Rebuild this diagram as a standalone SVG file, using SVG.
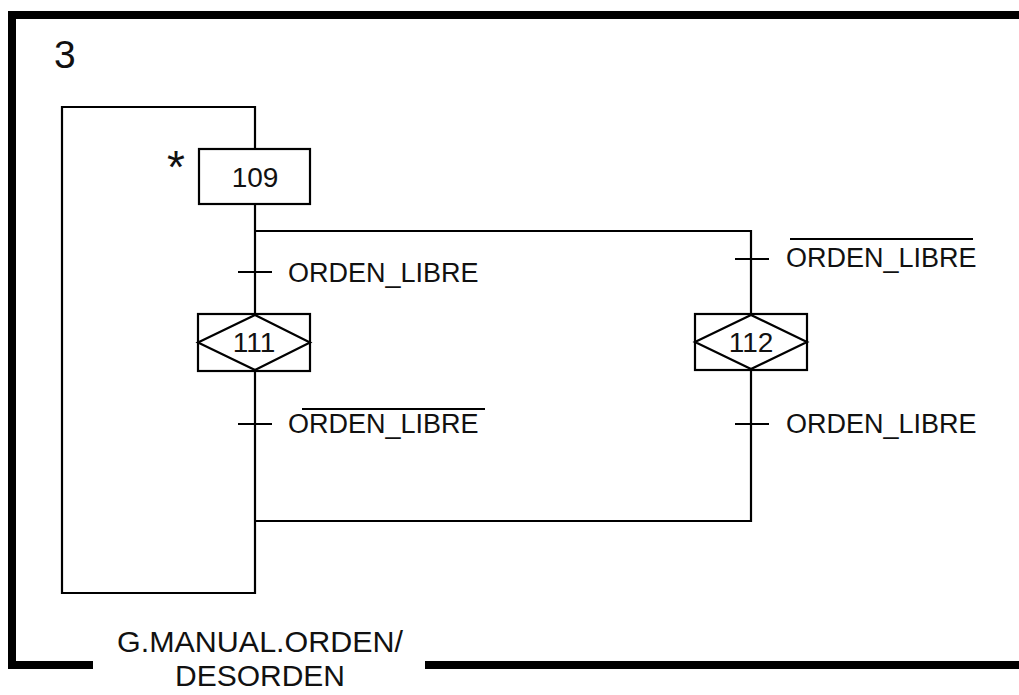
<svg xmlns="http://www.w3.org/2000/svg" width="1019" height="695" viewBox="0 0 1019 695">
<style>
.ln{fill:none;stroke:#000;stroke-width:2.2}
.fr{fill:none;stroke:#000;stroke-width:8}
.t{font-family:"Liberation Sans",Arial,sans-serif;font-size:27px;fill:#111}
.n{font-family:"Liberation Sans",Arial,sans-serif;font-size:28px;fill:#111;text-anchor:middle}
.c{font-family:"Liberation Sans",Arial,sans-serif;font-size:30px;fill:#111;text-anchor:middle}
</style>
<rect width="1019" height="695" fill="#fff"/>
<g id="frame">
<path class="fr" d="M93,665 H12 V15 H1019"/>
<path class="fr" d="M425,665 H1019"/>
<text x="54" y="68" font-family="Liberation Sans,Arial,sans-serif" font-size="39" fill="#111">3</text>
<text class="c" x="260" y="652" textLength="286" lengthAdjust="spacingAndGlyphs">G.MANUAL.ORDEN/</text>
<text class="c" x="260" y="686">DESORDEN</text>
</g>
<g id="connectors">
<path class="ln" d="M255,149 V107 H62 V593 H255 V371"/>
<path class="ln" d="M255,204 V314"/>
<path class="ln" d="M255,231 H751 V314"/>
<path class="ln" d="M751,370 V521 H255"/>
<path class="ln" d="M238,272 H272 M238,424 H272 M735,259 H769 M735,424 H769"/>
</g>
<g id="t1"><text class="t" x="288" y="282">ORDEN_LIBRE</text></g>
<g id="t2"><text class="t" x="288" y="433">ORDEN_LIBRE</text><path class="ln" d="M302,409 H485"/></g>
<g id="t3"><text class="t" x="786" y="267">ORDEN_LIBRE</text><path class="ln" d="M790,239 H973"/></g>
<g id="t4"><text class="t" x="786" y="433">ORDEN_LIBRE</text></g>
<g id="s109">
<rect class="ln" x="199" y="149" width="111" height="55" fill="#fff"/>
<text class="n" x="255" y="187">109</text>
<text x="176" y="183" font-family="Liberation Sans,Arial,sans-serif" font-size="46" fill="#111" text-anchor="middle">*</text>
</g>
<g id="s111">
<rect class="ln" x="198" y="314" width="112" height="57"/>
<path class="ln" d="M198,342.5 L255,315 L310,342.5 L255,370 Z"/>
<text class="n" x="254" y="352">111</text>
</g>
<g id="s112">
<rect class="ln" x="695" y="314" width="112" height="56"/>
<path class="ln" d="M695,342 L751,315 L807,342 L751,369 Z"/>
<text class="n" x="751" y="352">112</text>
</g>
</svg>
